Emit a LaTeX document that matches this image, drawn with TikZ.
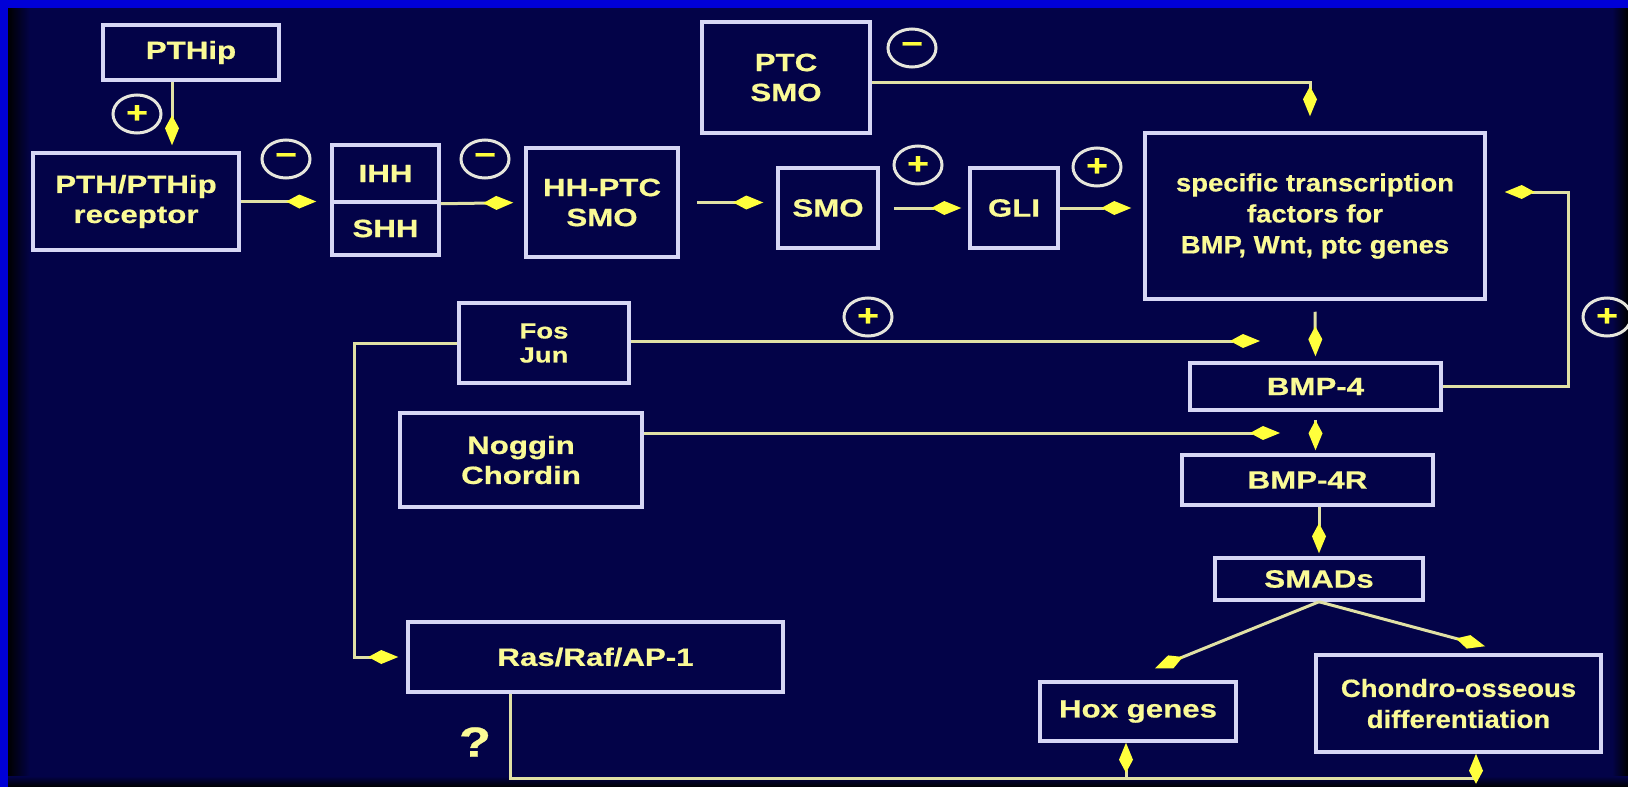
\documentclass[tikz,border=0pt]{standalone}
\usepackage{fontspec}
\newfontfamily\wfont{Liberation Sans}[FakeStretch=1.25,FakeBold=0.6]
\newfontfamily\nfont{Liberation Sans}[FakeStretch=1.1,FakeBold=0.6]
\usetikzlibrary{arrows.meta,shapes.geometric}
\definecolor{bgnavy}{RGB}{3,3,72}
\definecolor{edgeblue}{RGB}{0,0,215}
\definecolor{boxline}{RGB}{215,215,245}
\definecolor{txtyellow}{RGB}{250,250,150}
\definecolor{linecream}{RGB}{225,225,165}
\definecolor{tipyellow}{RGB}{255,255,60}
\definecolor{ringwhite}{RGB}{230,230,220}
\tikzset{
  box/.style={draw=boxline, line width=3.5pt, rectangle, inner sep=0pt, align=center,
    text=txtyellow, font=\wfont\bfseries\fontsize{25}{30}\selectfont},
  narrowtext/.style={font=\nfont\bfseries\fontsize{25}{31}\selectfont},
  fostext/.style={font=\wfont\bfseries\fontsize{22}{24}\selectfont},
  conn/.style={draw=linecream, line width=3pt,
    -{Kite[length=30pt,width=14pt,inset=13pt,color=tipyellow]}},
  sgn/.style={ellipse, draw=ringwhite, line width=3pt, minimum width=48, minimum height=38,
    inner sep=0pt, text=tipyellow, font=\wfont\bfseries\fontsize{30}{30}\selectfont},
  qmark/.style={text=txtyellow, inner sep=0pt, font=\wfont\bfseries\fontsize{42}{42}\selectfont},
}
\begin{document}
\begin{tikzpicture}[x=1pt,y=-1pt]
\useasboundingbox (0,0) rectangle (1628,787);
% background and frame
\fill[bgnavy] (0,0) rectangle (1628,787);
\shade[left color=black, right color=bgnavy] (8,8) rectangle (30,787);
\shade[left color=bgnavy, right color=black] (1612,8) rectangle (1628,787);
\shade[top color=bgnavy, bottom color=black] (8,776) rectangle (1628,787);
\fill[edgeblue] (0,0) rectangle (1628,8);
\fill[edgeblue] (0,0) rectangle (8,787);

% boxes
\node[box, minimum width=176, minimum height=55] (pthip) at (191,52.5) {PTHip};
\node[box, minimum width=206, minimum height=97] (rec) at (136,201.5) {PTH/PTHip\\receptor};
\node[box, minimum width=107, minimum height=57] (ihh) at (385.5,173.5) {IHH};
\node[box, minimum width=107, minimum height=53] (shh) at (385.5,228.5) {SHH};
\node[box, minimum width=152, minimum height=109] (hh) at (602,202.5) {HH-PTC\\SMO};
\node[box, minimum width=168, minimum height=111] (ptc) at (786,77.5) {PTC\\SMO};
\node[box, minimum width=100, minimum height=80] (smo) at (828,208) {SMO};
\node[box, minimum width=88, minimum height=80] (gli) at (1014,208) {GLI};
\node[box, narrowtext, minimum width=340, minimum height=166] (tf) at (1315,216)
  {specific transcription\\factors for\\BMP, Wnt, ptc genes};
\node[box, fostext, minimum width=170, minimum height=80] (fos) at (544,343) {Fos\\Jun};
\node[box, minimum width=242, minimum height=94] (nog) at (521,460) {Noggin\\Chordin};
\node[box, minimum width=251, minimum height=47] (bmp) at (1315.5,386.5) {BMP-4};
\node[box, minimum width=251, minimum height=50] (bmpr) at (1307.5,480) {BMP-4R};
\node[box, minimum width=208, minimum height=42] (smad) at (1319,579) {SMADs};
\node[box, minimum width=375, minimum height=70] (ras) at (595.5,657) {Ras/Raf/AP-1};
\node[box, minimum width=196, minimum height=59] (hox) at (1138,711.5) {Hox genes};
\node[box, narrowtext, minimum width=285, minimum height=97] (chon) at (1458.5,703.5)
  {Chondro-osseous\\differentiation};

% signs
\node[sgn] (s1) at (137,114) {+};
\node[sgn] (s2) at (286,159) {−};
\node[sgn] (s3) at (485,159) {−};
\node[sgn] (s4) at (912,48) {−};
\node[sgn] (s5) at (918,165) {+};
\node[sgn] (s6) at (1097,167) {+};
\node[sgn] (s7) at (868,317) {+};
\node[sgn] (s8) at (1607,317) {+};
\node[qmark] (q) at (475,742) {?};

% helper coordinates
\coordinate (xa1) at (172,0);
\coordinate (fosend) at (1260,341);
\coordinate (nogend) at (1280,433);
\coordinate (hoxbr) at (1126,777);

% connectors
\draw[conn, shorten >=6pt] (pthip.south -| xa1) -- (rec.north -| xa1);
\draw[conn, shorten >=14pt] (rec.east) -- (rec.east -| ihh.west);
\draw[conn, shorten >=11pt] (ihh.south east) -- (hh.west);
\draw[conn, shorten <=17pt, shorten >=13pt] (hh.east) -- (hh.east -| smo.west);
\draw[conn, shorten <=14pt, shorten >=7pt] (smo.east) -- (gli.west);
\draw[conn, shorten >=12pt] (gli.east) -- (gli.east -| tf.west);
\draw[conn, shorten >=15pt] ([yshift=-4.5pt]ptc.east) -| ([xshift=-5pt]tf.north);
\draw[conn, shorten <=11pt, shorten >=5pt] (tf.south) -- (bmp.north);
\draw[conn, shorten >=18pt] (bmp.east) -- ++(126,0) |- ([yshift=24pt]tf.east);
\draw[conn] (fos.east |- fosend) -- (fosend);
\draw[conn] (nog.east |- nogend) -- (nogend);
\draw[conn, shorten <=8pt, shorten >=3pt] (bmp.south) -- (bmp.south |- bmpr.north);
\draw[conn, shorten >=3pt] (smad.north |- bmpr.south) -- (smad.north);
\draw[conn] (smad.south) -- ([xshift=17pt,yshift=12pt]hox.north);
\draw[conn] (smad.south) -- ([xshift=26.5pt,yshift=7pt]chon.north);
\draw[conn, shorten >=8pt] (fos.west) -- ++(-103,0) |- (ras.west);
\draw[conn] ([xshift=-85.5pt]ras.south) -- ++(0,85) -| ([xshift=17.5pt]chon.south);
\draw[conn] (hoxbr) -- (hoxbr |- hox.south);
\end{tikzpicture}
\end{document}
